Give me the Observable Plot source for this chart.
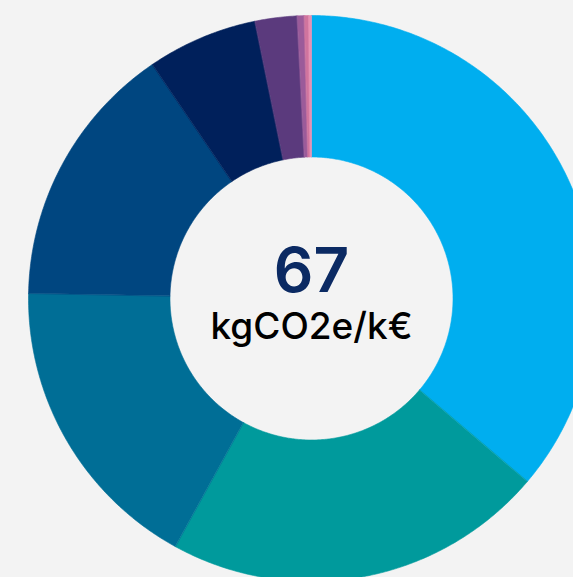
<!DOCTYPE html>
<html>
<head>
<meta charset="utf-8">
<script src="https://cdn.jsdelivr.net/npm/d3@7"></script>
<script src="https://cdn.jsdelivr.net/npm/@observablehq/plot@0.6"></script>
<style>
  html, body { margin: 0; padding: 0; background: #f3f3f3; overflow: hidden; }
  #chart svg { display: block; max-width: none; }
</style>
</head>
<body>
<div id="chart"></div>
<script>
// Data (shares in %)
const categories = ["A", "B", "C", "D", "E", "F", "G", "H", "I"];
const values = [36.2, 21.8, 17.3, 15.2, 6.3, 2.4, 0.4, 0.25, 0.15];
const colors = ["#00aeef", "#009a9c", "#006e96", "#004680", "#00205b", "#5b3a7d", "#9b5b9a", "#d0749e", "#e690b3"];
const centerValue = "67";
const centerUnit = "kgCO2e/k€";

const W = 573, H = 577;
const cx = 311, cy = 298, R = 283;
const innerRatio = 0.5;

const pie = d3.pie().sort(null).value(d => d.value);
const arcs = pie(categories.map((c, i) => ({cat: c, value: values[i], color: colors[i]})));

// Build slice outlines in data space (unit circle, 0 at top, clockwise)
const pts = [];
for (const a of arcs) {
  const n = Math.max(2, Math.ceil((a.endAngle - a.startAngle) / (Math.PI / 360)));
  for (let k = 0; k <= n; k++) {
    const t = a.startAngle + (a.endAngle - a.startAngle) * k / n;
    pts.push({cat: a.data.cat, x: Math.sin(t), y: Math.cos(t)});
  }
  for (let k = n; k >= 0; k--) {
    const t = a.startAngle + (a.endAngle - a.startAngle) * k / n;
    pts.push({cat: a.data.cat, x: innerRatio * Math.sin(t), y: innerRatio * Math.cos(t)});
  }
}

const chart = Plot.plot({
  width: W,
  height: H,
  margin: 0,
  style: {background: "#f3f3f3", overflow: "hidden"},
  x: {domain: [-1, 1], range: [cx - R, cx + R], axis: null},
  y: {domain: [-1, 1], range: [cy + R, cy - R], axis: null},
  color: {domain: categories, range: colors},
  marks: [
    Plot.line(pts, {x: "x", y: "y", z: "cat", fill: "cat", stroke: "cat", strokeWidth: 0.6, curve: "linear-closed"}),
    Plot.text([centerValue], {x: 0, y: 0, text: d => d, dy: -26, fontSize: 62, fontWeight: 600, fill: "#0b2a63", fontFamily: "Inter, Lato, sans-serif"}),
    Plot.text([centerUnit], {x: 0, y: 0, text: d => d, dy: 29, fontSize: 37, fontWeight: 500, fill: "#000000", fontFamily: "Inter, Lato, sans-serif"})
  ]
});
document.getElementById("chart").appendChild(chart);
</script>
</body>
</html>
